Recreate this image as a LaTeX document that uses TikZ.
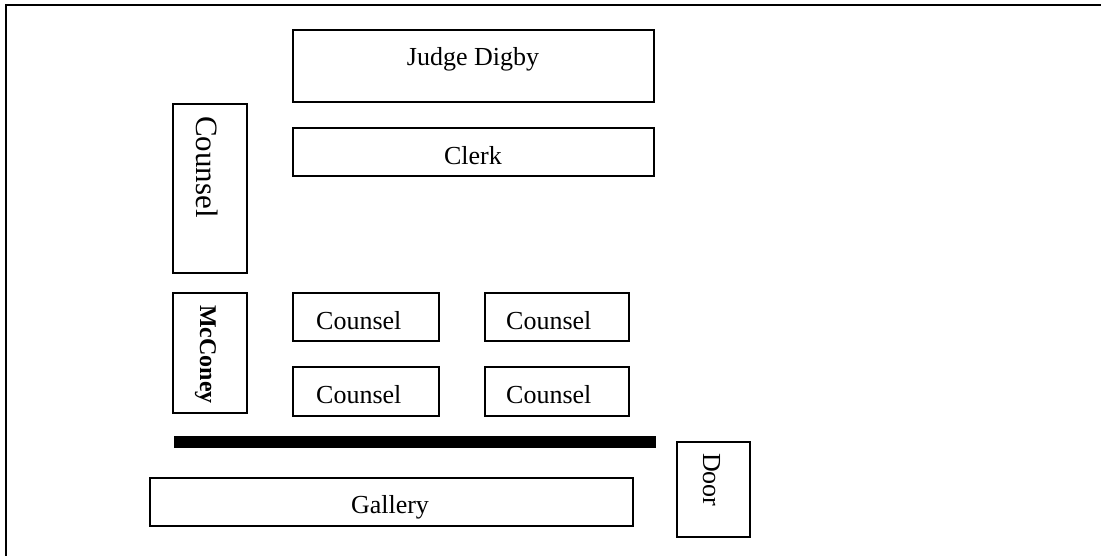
\documentclass[tikz,border=0pt]{standalone}
\usepackage{fontspec}
\setmainfont{Liberation Serif}
\begin{document}
\begin{tikzpicture}[x=1pt,y=-1pt,
  room/.style={draw=black, line width=2.2pt, rectangle, inner sep=0pt},
  lbl/.style={inner sep=0pt, font=\fontsize{26}{30}\selectfont},
  vlbl/.style={inner sep=0pt, rotate=-90, anchor=base west},
  framestyle/.style={line width=2pt, line cap=rect}]
\useasboundingbox (0,0) rectangle (1101,555);
% frame
\coordinate (ftr) at (1101,5);
\coordinate (ftl) at (6,5);
\coordinate (fbl) at (6,555);
\draw[framestyle] (ftr) -- (ftl) -- (fbl);
% boxes
\node[room, minimum width=361, minimum height=72] (judge) at (473.5,66) {};
\node[room, minimum width=361, minimum height=48] (clerk) at (473.5,152) {};
\node[room, minimum width=74, minimum height=169] (counselL) at (210,188.5) {};
\node[room, minimum width=74, minimum height=120] (mcconey) at (210,353) {};
\node[room, minimum width=146, minimum height=48] (c1) at (366,317) {};
\node[room, minimum width=146, minimum height=49] (c2) at (366,391.5) {};
\node[room, minimum width=144, minimum height=48] (c3) at (557,317) {};
\node[room, minimum width=144, minimum height=49] (c4) at (557,391.5) {};
\node[fill=black, inner sep=0pt, minimum width=482, minimum height=12] (bar) at (415,442) {};
\node[room, minimum width=483, minimum height=48] (gallery) at (391.5,502) {};
\node[room, minimum width=73, minimum height=95] (door) at (713.5,489.5) {};
% texts
\node[lbl, anchor=base] (tjudge) at (473,65) {Judge Digby};
\node[lbl, anchor=base] (tclerk) at (473,164) {Clerk};
\node[lbl, anchor=base west] (tc1) at (316,329) {Counsel};
\node[lbl, anchor=base west] (tc2) at (316,403) {Counsel};
\node[lbl, anchor=base west] (tc3) at (506,329) {Counsel};
\node[lbl, anchor=base west] (tc4) at (506,403) {Counsel};
\node[lbl, anchor=base] (tgallery) at (390,513) {Gallery};
\node[vlbl, font=\fontsize{31}{36}\selectfont] (tcounselL) at (196,116) {Counsel};
\node[vlbl, font=\fontsize{24}{28}\selectfont\bfseries] (tmcconey) at (200,305) {McConey};
\node[vlbl, font=\fontsize{26}{30}\selectfont] (tdoor) at (703,453) {Door};
\end{tikzpicture}
\end{document}
